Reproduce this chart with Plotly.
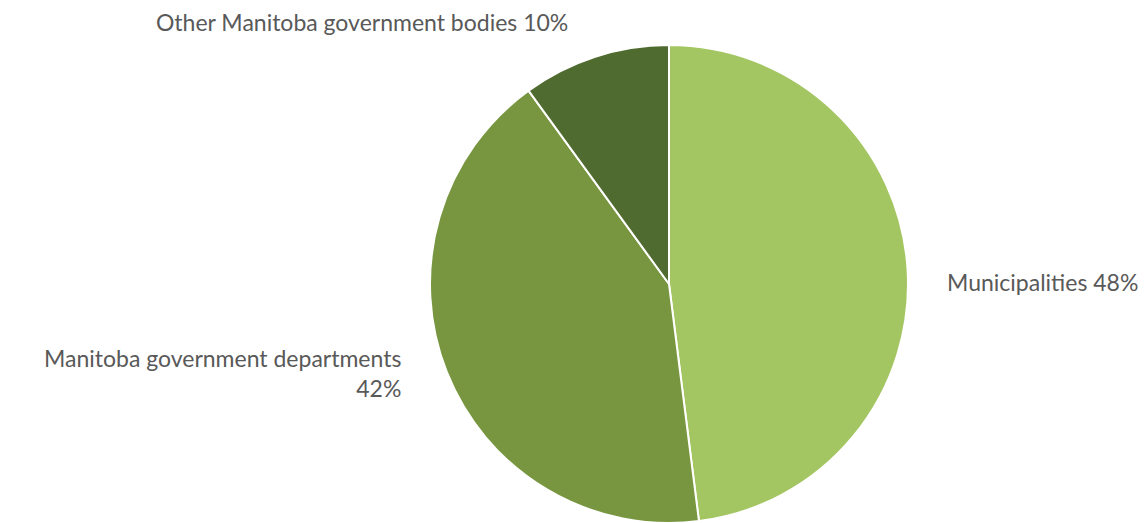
import plotly.graph_objects as go

categories = ["Municipalities", "Manitoba government departments", "Other Manitoba government bodies"]
values = [48, 42, 10]
colors = ["#A3C662", "#77963F", "#506B2F"]

W, H = 1146, 523

fig = go.Figure(go.Pie(
    labels=categories,
    values=values,
    sort=False,
    direction="clockwise",
    rotation=0,
    marker=dict(colors=colors, line=dict(color="white", width=2)),
    textinfo="none",
    hoverinfo="label+percent",
    domain=dict(x=[428 / W, 910 / W], y=[0, 1 - 45 / H]),
    showlegend=False,
))

font = dict(family="Lato, Open Sans, sans-serif", size=23, color="#595959")
pct = [f"{v}%" for v in values]

fig.add_annotation(x=1042 / W, y=1 - 282 / H, xref="paper", yref="paper",
                   text=f"{categories[0]} {pct[0]}", showarrow=False,
                   xanchor="center", yanchor="middle", font=font)
fig.add_annotation(x=403 / W, y=1 - 373 / H, xref="paper", yref="paper",
                   text=f"{categories[1]}<br>{pct[1]}", showarrow=False,
                   xanchor="right", yanchor="middle", align="right", font=font)
fig.add_annotation(x=362 / W, y=1 - 22 / H, xref="paper", yref="paper",
                   text=f"{categories[2]} {pct[2]}", showarrow=False,
                   xanchor="center", yanchor="middle", font=font)

fig.update_layout(
    width=W, height=H,
    margin=dict(l=0, r=0, t=0, b=0),
    paper_bgcolor="white", plot_bgcolor="white",
)

fig.write_html("out.html")
